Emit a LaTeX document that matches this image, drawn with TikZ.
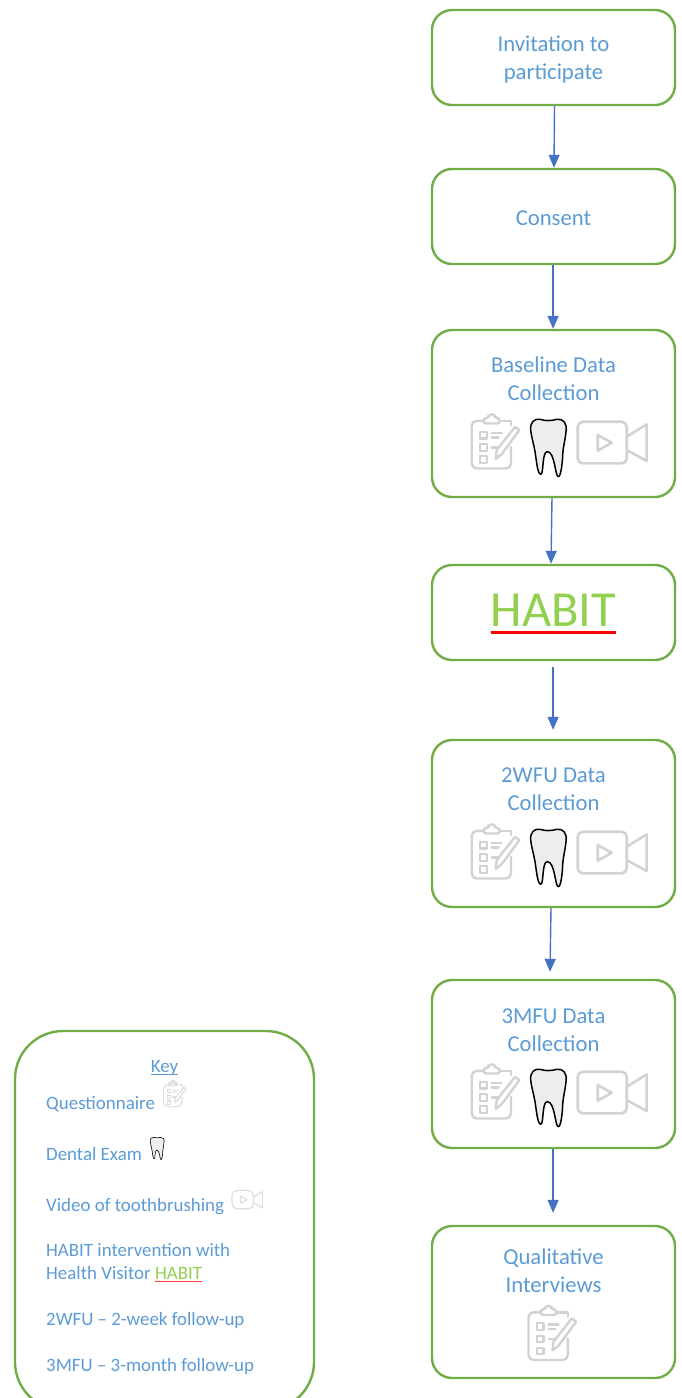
\documentclass[tikz,border=0pt]{standalone}
\usepackage{fontspec}
\setmainfont{Carlito}
\definecolor{boxgreen}{HTML}{70AD47}
\definecolor{txtblue}{HTML}{5B9BD5}
\definecolor{habitgreen}{HTML}{92D050}
\definecolor{arrowblue}{HTML}{4472C4}
\definecolor{icongray}{HTML}{D2D2D2}
\definecolor{keygray}{HTML}{DEDEDE}
\definecolor{toothfill}{HTML}{EDEDED}
\newcommand{\redul}[4]{\setbox0\hbox{#4}\leavevmode\rlap{\color{#1}\vrule width\wd0 height\dimexpr-#2+#3\relax depth\dimexpr #2\relax}\box0}
\usetikzlibrary{arrows.meta}
\tikzset{
  flowbox/.style={draw=boxgreen,line width=2.4pt,rounded corners=20pt,minimum width=243pt,inner sep=0pt},
  boxlabel/.style={text=txtblue,align=center,font=\fontsize{22.7}{28}\selectfont,inner sep=0pt},
  keytext/.style={text=txtblue,anchor=base west,inner sep=0pt,font=\fontsize{18.9}{23}\selectfont},
  flowarrow/.style={draw=arrowblue,line width=1.4pt,-{Triangle[length=13pt,width=11pt]}},
  clipicon/.pic={
    \begin{scope}[scale=.3333,draw=#1,line cap=round,line join=round,line width=2.4pt]
      \draw (118,35) -- (118,22) -- (85,22);
      \draw[rounded corners=5pt] (35,22) -- (0,22) -- (0,165) -- (118,165) -- (118,100);
      \draw[rounded corners=3pt] (35,30) -- (35,14) -- (50,14) -- (52,2) -- (68,2) -- (70,14) -- (85,14) -- (85,30) -- cycle;
      \draw[line width=2.1pt] (25,55) rectangle (45,75) (25,92) rectangle (45,112) (25,128) rectangle (45,148);
      \draw (60,58) -- (90,58) (60,72) -- (80,72) (60,102) -- (78,102);
      \draw (72,136) -- (75,110) -- (130,40) -- (143,50) -- (90,122) -- cycle;
    \end{scope}},
  clipsmall/.pic={
    \begin{scope}[scale=.3333,draw=keygray,line cap=round,line join=round,line width=1.2pt]
      \draw (118,35) -- (118,22) -- (85,22);
      \draw[rounded corners=5pt] (35,22) -- (0,22) -- (0,165) -- (118,165) -- (118,100);
      \draw[rounded corners=3pt] (35,30) -- (35,14) -- (50,14) -- (52,2) -- (68,2) -- (70,14) -- (85,14) -- (85,30) -- cycle;
      \draw (25,55) rectangle (45,75) (25,92) rectangle (45,112) (25,128) rectangle (45,148);
      \draw (60,58) -- (90,58) (60,72) -- (80,72) (60,102) -- (78,102);
      \draw (72,136) -- (75,110) -- (130,40) -- (143,50) -- (90,122) -- cycle;
    \end{scope}},
  toothicon/.pic={
    \begin{scope}[scale=.3333]
      \draw[draw=black,fill=toothfill,line width=#1,line join=round]
        (2,35) .. controls (0,10) and (15,0) .. (30,3) .. controls (45,8) and (65,8) .. (80,3)
        .. controls (100,0) and (112,15) .. (108,40) .. controls (105,70) and (100,80) .. (98,110)
        .. controls (97,140) and (92,175) .. (85,175) .. controls (75,175) and (75,100) .. (52,100)
        .. controls (35,100) and (42,170) .. (32,168) .. controls (22,165) and (20,130) .. (15,100)
        .. controls (12,80) and (5,60) .. (2,35) -- cycle;
    \end{scope}},
  camicon/.pic={
    \begin{scope}[scale=.3333]
      \draw[draw=icongray,line width=#1,line join=round,rounded corners=5pt] (0,0) rectangle (147,125);
      \draw[draw=icongray,line width=#1,line join=round] (60,40) -- (60,87) -- (102,63) -- cycle;
      \draw[draw=icongray,line width=#1,line join=round] (147,45) -- (207,8) -- (207,118) -- (147,85);
    \end{scope}},
  camsmall/.pic={
    \begin{scope}[scale=.3333]
      \draw[draw=keygray,line width=#1,line join=round,rounded corners=5pt] (0,0) rectangle (147,125);
      \draw[draw=keygray,line width=#1,line join=round] (60,40) -- (60,87) -- (102,63) -- cycle;
      \draw[draw=keygray,line width=#1,line join=round] (147,45) -- (207,8) -- (207,118) -- (147,85);
    \end{scope}},
}
\begin{document}
\begin{tikzpicture}[x=1pt,y=-1pt]
  \clip (0,0) rectangle (682,1398);
  % flow boxes
  \node[flowbox,minimum height=95pt] (inv) at (553.5,57.5) {};
  \node[boxlabel] (invtxt) at (553.5,59.5) {Invitation to\\participate};
  \node[flowbox,minimum height=95pt] (con) at (553.5,216.5) {};
  \node[boxlabel] (contxt) at (553.5,218) {Consent};
  \node[flowbox,minimum height=167pt] (base) at (553.5,413.5) {};
  \node[boxlabel] (basetxt) at (553.5,379) {Baseline Data\\Collection};
  \node[flowbox,minimum height=95pt] (hab) at (553.5,612.5) {};
  \node[boxlabel,text=habitgreen,font=\fontsize{50.5}{52}\selectfont] (habtxt) at (553.5,614) {\redul{red}{7pt}{3pt}{HABIT}};
  \node[flowbox,minimum height=167pt] (two) at (553.5,823.5) {};
  \node[boxlabel] (twotxt) at (553.5,789) {2WFU Data\\Collection};
  \node[flowbox,minimum height=168pt] (three) at (553.5,1064) {};
  \node[boxlabel] (threetxt) at (553.5,1030) {3MFU Data\\Collection};
  \node[flowbox,minimum height=152pt] (qual) at (553.5,1302) {};
  \node[boxlabel] (qualtxt) at (553.5,1271) {Qualitative\\Interviews};
  % icons in boxes
  \foreach \dy in {0,410,650} {
    \pic at (471.7,{413.5+\dy}) {clipicon=icongray};
    \pic at (530,{418.3+\dy}) {toothicon=1.5pt};
    \pic at (577.7,{421.7+\dy}) {camicon=2.6pt};
  }
  \pic at (528.5,1305) {clipicon=icongray};
  % arrows
  \draw[flowarrow] ([xshift=1pt]inv.south) -- ([xshift=.5pt]con.north);
  \draw[flowarrow] ([xshift=-.4pt]con.south) -- ([xshift=-.4pt]base.north);
  \draw[flowarrow] ([xshift=-1.5pt]base.south) -- ([xshift=-2.5pt]hab.north);
  \draw[flowarrow] ([xshift=-.4pt,yshift=-6pt]hab.south) -- ([xshift=-.4pt,yshift=9pt]two.north);
  \draw[flowarrow] ([xshift=-2.5pt]two.south) -- ([xshift=-3.5pt,yshift=7pt]three.north);
  \draw[flowarrow] ([xshift=-.4pt]three.south) -- ([xshift=-.4pt,yshift=12pt]qual.north);
  % key
  \node[draw=boxgreen,line width=2.4pt,rounded corners=48pt,minimum width=299pt,minimum height=379pt,inner sep=0pt] (key) at (164.5,1220.5) {};
  \node[text=txtblue,anchor=base,inner sep=0pt,font=\fontsize{18.9}{23}\selectfont] (keyt) at (164.5,1072) {\redul{txtblue}{2.5pt}{1pt}{Key}};
  \node[keytext] (kq) at (46,1109) {Questionnaire};
  \node[keytext] (kd) at (46,1160) {Dental Exam};
  \node[keytext] (kv) at (46,1211) {Video of toothbrushing};
  \node[keytext] (kh1) at (46,1256) {HABIT intervention with};
  \node[keytext] (kh2) at (46,1279) {Health Visitor \textcolor{habitgreen}{\redul{red!75}{3pt}{1.3pt}{HABIT}}};
  \node[keytext] (k2) at (46,1325) {2WFU – 2-week follow-up};
  \node[keytext] (k3) at (46,1371) {3MFU – 3-month follow-up};
  \pic[scale=.47] at (163.5,1081) {clipsmall};
  \pic[scale=.39] at (150,1137) {toothicon=.6pt};
  \pic[scale=.44] at (232,1190.5) {camsmall=1.2pt};
\end{tikzpicture}
\end{document}
